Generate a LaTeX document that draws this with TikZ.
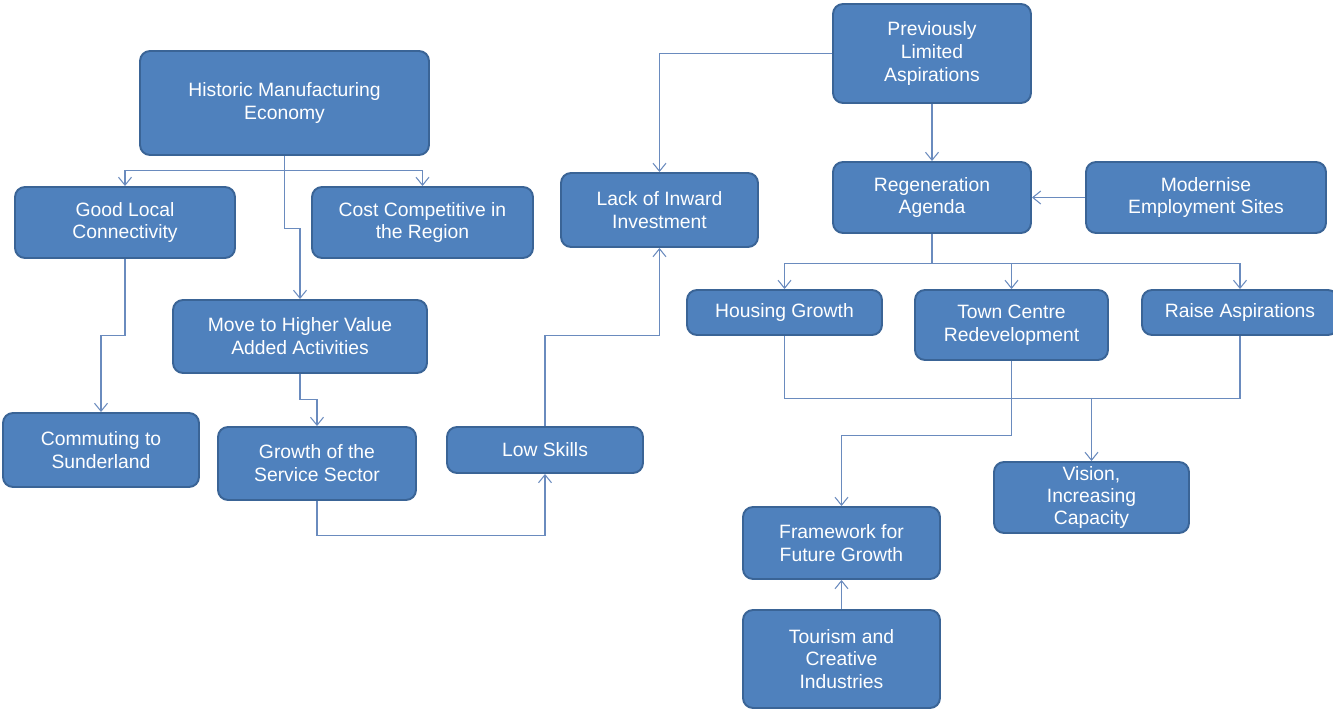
\documentclass[tikz,border=0pt]{standalone}
\usepackage{fontspec}
\setmainfont{Liberation Sans}
\usetikzlibrary{arrows.meta}
\definecolor{boxfill}{HTML}{4F81BD}
\definecolor{boxline}{HTML}{3A6496}
\definecolor{conn}{HTML}{6A8BBE}
\tikzset{
  box/.style={draw=boxline, line width=1.1pt, fill=boxfill, rounded corners=2mm,
    text=white, align=center, inner sep=0pt, font=\fontsize{11}{13}\selectfont},
  link/.style={draw=conn, line width=0.6pt},
  arr/.style={link, -{Straight Barb[length=1.6mm,width=2.6mm]}},
}
\begin{document}
\begin{tikzpicture}[x=0.02cm,y=-0.02cm]
\useasboundingbox (0,0) rectangle (1333,712);
% nodes
\node[box, minimum width=5.78cm, minimum height=2.08cm] (HME) at (284.5,103) {Historic Manufacturing\\Economy};
\node[box, minimum width=4.4cm, minimum height=1.42cm] (GLC) at (125,222.5) {Good Local\\Connectivity};
\node[box, minimum width=4.42cm, minimum height=1.42cm] (CCR) at (422.5,222.5) {Cost Competitive in\\the Region};
\node[box, minimum width=5.08cm, minimum height=1.46cm] (MHV) at (300,336.5) {Move to Higher Value\\Added Activities};
\node[box, minimum width=3.92cm, minimum height=1.48cm] (CS) at (101,450) {Commuting to\\Sunderland};
\node[box, minimum width=3.96cm, minimum height=1.46cm] (GSS) at (317,463.5) {Growth of the\\Service Sector};
\node[box, minimum width=3.92cm, minimum height=0.92cm] (LS) at (545,450) {Low Skills};
\node[box, minimum width=3.94cm, minimum height=1.48cm] (LII) at (659.5,210) {Lack of Inward\\Investment};
\node[box, minimum width=3.96cm, minimum height=1.98cm] (PLA) at (932,53.5) {Previously\\Limited\\Aspirations};
\node[box, minimum width=3.96cm, minimum height=1.42cm] (RA) at (932,197.5) {Regeneration\\Agenda};
\node[box, minimum width=4.8cm, minimum height=1.42cm] (MES) at (1206,197.5) {Modernise\\Employment Sites};
\node[box, minimum width=3.9cm, minimum height=0.9cm] (HG) at (784.5,312.5) {Housing Growth};
\node[box, minimum width=3.86cm, minimum height=1.4cm] (TCR) at (1011.5,325) {Town Centre\\Redevelopment};
\node[box, minimum width=3.92cm, minimum height=0.9cm] (RAS) at (1240,312.5) {Raise Aspirations};
\node[box, minimum width=3.9cm, minimum height=1.42cm, font=\fontsize{11}{12.4}\selectfont] (VIC) at (1091.5,497.5) {Vision,\\Increasing\\Capacity};
\node[box, minimum width=3.94cm, minimum height=1.44cm] (FFG) at (841.5,543) {Framework for\\Future Growth};
\node[box, minimum width=3.94cm, minimum height=1.96cm] (TCI) at (841.5,659) {Tourism and\\Creative\\Industries};
% connectors
\draw[arr] (HME.south) -- ++(0,15) -| (GLC.north);
\draw[arr] (HME.south) -- ++(0,15) -| (CCR.north);
\draw[arr] (HME.south) -- ++(0,73) -| (MHV.north);
\draw[arr] (GLC.south) -- ++(0,77) -| (CS.north);
\draw[arr] (MHV.south) -- ++(0,26) -| (GSS.north);
\draw[arr] (GSS.south) -- ++(0,35) -| (LS.south);
\draw[arr] (LS.north) -- ++(0,-91) -| (LII.south);
\draw[arr] (PLA.west) -| (LII.north);
\draw[arr] (PLA.south) -- (RA.north);
\draw[arr] (MES.west) -- (RA.east);
\draw[arr] (RA.south) -- ++(0,30) -| (HG.north);
\draw[arr] (RA.south) -- ++(0,30) -| (TCR.north);
\draw[arr] (RA.south) -- ++(0,30) -| (RAS.north);
\draw[link] (HG.south) -- ++(0,63) -| (RAS.south);
\coordinate (J) at (1091.5,398);
\draw[arr] (J) -- (VIC.north);
\draw[arr] (TCR.south) -- ++(0,75) -| (FFG.north);
\draw[arr] (TCI.north) -- (FFG.south);
\end{tikzpicture}
\end{document}
